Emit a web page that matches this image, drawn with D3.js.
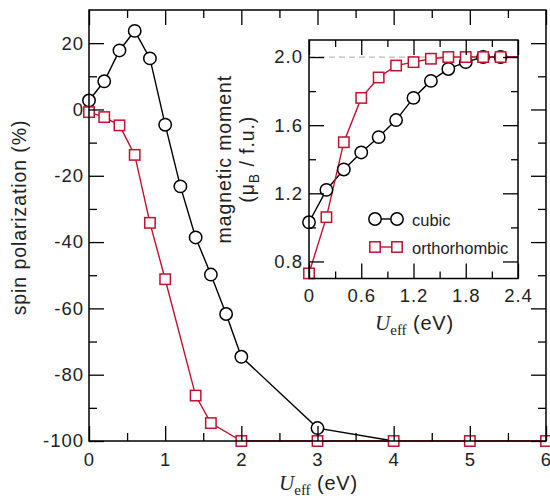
<!DOCTYPE html>
<html>
<head>
<meta charset="utf-8">
<script src="https://cdn.jsdelivr.net/npm/d3@7"></script>
<style>
  html, body { margin: 0; padding: 0; background: #fff; }
  svg { display: block; font-family: "Liberation Sans", Arial, Helvetica, sans-serif; }
</style>
</head>
<body>
<svg id="chart" width="550" height="498"></svg>
<script>
// Spin polarization vs U_eff (main panel)
const uMainCubic = [0, 0.2, 0.4, 0.6, 0.8, 1.0, 1.2, 1.4, 1.6, 1.8, 2.0, 3.0, 4.0];
const spinCubic  = [2.7, 8.5, 17.8, 23.7, 15.4, -4.6, -23.2, -38.6, -49.8, -61.7, -74.6, -96.1, -100];
const uMainOrtho = [0, 0.2, 0.4, 0.6, 0.8, 1.0, 1.4, 1.6, 2.0, 3.0, 4.0, 5.0, 6.0];
const spinOrtho  = [-0.8, -2.3, -4.8, -13.7, -34.2, -51.2, -86.3, -94.6, -100, -100, -100, -100, -100];

// Magnetic moment vs U_eff (inset)
const uInset       = [0, 0.2, 0.4, 0.6, 0.8, 1.0, 1.2, 1.4, 1.6, 1.8, 2.0, 2.2, 2.6];
const momentCubic  = [1.03, 1.22, 1.34, 1.44, 1.53, 1.63, 1.76, 1.86, 1.93, 1.97, 2.0, 2.0, 2.0];
const momentOrtho  = [0.73, 1.06, 1.50, 1.76, 1.88, 1.95, 1.97, 1.99, 2.0, 2.0, 2.0, 2.0, 2.0];

// Tick values
const mainXTicks = [0, 1, 2, 3, 4, 5, 6];
const mainXMinor = [0.5, 1.5, 2.5, 3.5, 4.5, 5.5];
const mainYTicks = [20, 0, -20, -40, -60, -80, -100];
const mainYMinor = [10, -10, -30, -50, -70, -90];
const insetXTicks = [0, 0.6, 1.2, 1.8, 2.4];
const insetXMinor = [0.3, 0.9, 1.5, 2.1];
const insetYTicks = [0.8, 1.2, 1.6, 2.0];
const insetYMinor = [1.0, 1.4, 1.8];
const saturation = 2.0;

const seriesNames = ["cubic", "orthorhombic"];
const RED = "#c3102f";
const BLACK = "#000";
const TEXT = "#222";

const svg = d3.select("#chart");

// ---------- main panel ----------
const M = { left: 89, right: 546, top: 10, bottom: 441 };
const x = d3.scaleLinear().domain([0, 6]).range([M.left, M.right]);
const y = d3.scaleLinear().domain([-100, 30]).range([M.bottom, M.top]);

const main = svg.append("g");

const cubicMain = uMainCubic.map((u, i) => ({ u, v: spinCubic[i] }));
const orthoMain = uMainOrtho.map((u, i) => ({ u, v: spinOrtho[i] }));
// a cubic point that coincides with an orthorhombic one sits under its square
const cubicVisible = cubicMain.filter(c => !orthoMain.some(o => o.u === c.u && o.v === c.v));

const lineMain = d3.line().x(d => x(d.u)).y(d => y(d.v));

main.append("path").datum(cubicMain).attr("d", lineMain)
  .attr("fill", "none").attr("stroke", BLACK).attr("stroke-width", 1.4);
main.append("path").datum(orthoMain).attr("d", lineMain)
  .attr("fill", "none").attr("stroke", RED).attr("stroke-width", 1.4);

const R = 6.2, S = 10.4;
main.selectAll("circle.c").data(cubicVisible).join("circle")
  .attr("cx", d => x(d.u)).attr("cy", d => y(d.v)).attr("r", R)
  .attr("fill", "#fff").attr("stroke", BLACK).attr("stroke-width", 1.5);
main.selectAll("rect.o").data(orthoMain).join("rect")
  .attr("x", d => x(d.u) - S / 2).attr("y", d => y(d.v) - S / 2)
  .attr("width", S).attr("height", S)
  .attr("fill", "#fff").attr("stroke", RED).attr("stroke-width", 1.5);

function styleAxis(g, fontSize) {
  g.select(".domain").remove();
  g.selectAll("line").attr("stroke", BLACK).attr("stroke-width", 1.3);
  g.selectAll("text").attr("fill", TEXT).style("font-size", fontSize + "px")
    .style("letter-spacing", "1px")
    .style("font-family", "'Liberation Sans', Arial, sans-serif");
}

// bottom axis
main.append("g").attr("transform", `translate(0,${M.bottom})`)
  .call(d3.axisBottom(x).tickValues(mainXTicks).tickSize(-15).tickPadding(12).tickFormat(d3.format("d")))
  .call(g => styleAxis(g, 18.5));
main.append("g").attr("transform", `translate(0,${M.bottom})`)
  .call(d3.axisBottom(x).tickValues(mainXMinor).tickSize(-8).tickFormat(""))
  .call(g => styleAxis(g, 18.5));
// top axis
main.append("g").attr("transform", `translate(0,${M.top})`)
  .call(d3.axisTop(x).tickValues(mainXTicks).tickSize(-15).tickFormat(""))
  .call(g => styleAxis(g, 18.5));
main.append("g").attr("transform", `translate(0,${M.top})`)
  .call(d3.axisTop(x).tickValues(mainXMinor).tickSize(-8).tickFormat(""))
  .call(g => styleAxis(g, 18.5));
// left axis
main.append("g").attr("transform", `translate(${M.left},0)`)
  .call(d3.axisLeft(y).tickValues(mainYTicks).tickSize(-15).tickPadding(5).tickFormat(d => String(d)))
  .call(g => styleAxis(g, 18.5));
main.append("g").attr("transform", `translate(${M.left},0)`)
  .call(d3.axisLeft(y).tickValues(mainYMinor).tickSize(-8).tickFormat(""))
  .call(g => styleAxis(g, 18.5));
// right axis
main.append("g").attr("transform", `translate(${M.right},0)`)
  .call(d3.axisRight(y).tickValues(mainYTicks).tickSize(-15).tickFormat(""))
  .call(g => styleAxis(g, 18.5));
main.append("g").attr("transform", `translate(${M.right},0)`)
  .call(d3.axisRight(y).tickValues(mainYMinor).tickSize(-8).tickFormat(""))
  .call(g => styleAxis(g, 18.5));

main.append("rect")
  .attr("x", M.left).attr("y", M.top)
  .attr("width", M.right - M.left).attr("height", M.bottom - M.top)
  .attr("fill", "none").attr("stroke", BLACK).attr("stroke-width", 1.5);

// axis titles
main.append("text")
  .attr("transform", `translate(26,${(M.top + M.bottom) / 2 - 8}) rotate(-90)`)
  .attr("text-anchor", "middle").attr("fill", TEXT)
  .style("font-size", "19.5px").style("letter-spacing", "0.9px")
  .text("spin polarization (%)");

function uEffLabel(sel, cx, baseline) {
  const t = sel.append("text").attr("x", cx).attr("y", baseline)
    .attr("text-anchor", "middle").attr("fill", TEXT);
  t.append("tspan").style("font-family", "'Liberation Serif', 'Times New Roman', serif")
    .style("font-style", "italic").style("font-size", "21px").text("U");
  t.append("tspan").attr("dy", 5).style("font-family", "'Liberation Serif', 'Times New Roman', serif")
    .style("font-size", "15px").text("eff");
  t.append("tspan").attr("dy", -5).style("font-size", "20px").style("letter-spacing", "0.8px").text(" (eV)");
}
uEffLabel(main, (M.left + M.right) / 2 + 1, 490);

// ---------- inset ----------
const I = { left: 309, right: 518, top: 40, bottom: 278.5 };
const xi = d3.scaleLinear().domain([0, 2.4]).range([I.left, I.right]);
const yi = d3.scaleLinear().domain([0.7, 2.1]).range([I.bottom, I.top]);

const inset = svg.append("g");
inset.append("rect")
  .attr("x", I.left).attr("y", I.top)
  .attr("width", I.right - I.left).attr("height", I.bottom - I.top)
  .attr("fill", "#fff");

svg.append("clipPath").attr("id", "insetClip").append("rect")
  .attr("x", I.left - 20).attr("y", I.top - 20)
  .attr("width", I.right - I.left + 20).attr("height", I.bottom - I.top + 40);

const plotI = inset.append("g").attr("clip-path", "url(#insetClip)");

// saturated moment reference line
plotI.append("line")
  .attr("x1", xi(0)).attr("x2", xi(2.4))
  .attr("y1", yi(saturation)).attr("y2", yi(saturation))
  .attr("stroke", "#bbb").attr("stroke-width", 1.2).attr("stroke-dasharray", "6,4");

const cubicI = uInset.map((u, i) => ({ u, v: momentCubic[i] }));
const orthoI = uInset.map((u, i) => ({ u, v: momentOrtho[i] }));
const lineI = d3.line().x(d => xi(d.u)).y(d => yi(d.v));

plotI.append("path").datum(cubicI).attr("d", lineI)
  .attr("fill", "none").attr("stroke", BLACK).attr("stroke-width", 1.4);
plotI.append("path").datum(orthoI).attr("d", lineI)
  .attr("fill", "none").attr("stroke", RED).attr("stroke-width", 1.4);
plotI.selectAll("circle").data(cubicI).join("circle")
  .attr("cx", d => xi(d.u)).attr("cy", d => yi(d.v)).attr("r", R)
  .attr("fill", "#fff").attr("stroke", BLACK).attr("stroke-width", 1.5);
plotI.selectAll("rect").data(orthoI).join("rect")
  .attr("x", d => xi(d.u) - S / 2).attr("y", d => yi(d.v) - S / 2)
  .attr("width", S).attr("height", S)
  .attr("fill", "#fff").attr("stroke", RED).attr("stroke-width", 1.5);

const fmtI = d => (d === 0 ? "0" : d3.format(".1f")(d));
inset.append("g").attr("transform", `translate(0,${I.bottom})`)
  .call(d3.axisBottom(xi).tickValues(insetXTicks).tickSize(-15).tickPadding(10).tickFormat(fmtI))
  .call(g => styleAxis(g, 18.5));
inset.append("g").attr("transform", `translate(0,${I.bottom})`)
  .call(d3.axisBottom(xi).tickValues(insetXMinor).tickSize(-7).tickFormat(""))
  .call(g => styleAxis(g, 18.5));
inset.append("g").attr("transform", `translate(0,${I.top})`)
  .call(d3.axisTop(xi).tickValues(insetXTicks).tickSize(-15).tickFormat(""))
  .call(g => styleAxis(g, 18.5));
inset.append("g").attr("transform", `translate(0,${I.top})`)
  .call(d3.axisTop(xi).tickValues(insetXMinor).tickSize(-7).tickFormat(""))
  .call(g => styleAxis(g, 18.5));
inset.append("g").attr("transform", `translate(${I.left},0)`)
  .call(d3.axisLeft(yi).tickValues(insetYTicks).tickSize(-15).tickPadding(6).tickFormat(d3.format(".1f")))
  .call(g => styleAxis(g, 18.5));
inset.append("g").attr("transform", `translate(${I.left},0)`)
  .call(d3.axisLeft(yi).tickValues(insetYMinor).tickSize(-7).tickFormat(""))
  .call(g => styleAxis(g, 18.5));
inset.append("g").attr("transform", `translate(${I.right},0)`)
  .call(d3.axisRight(yi).tickValues(insetYTicks).tickSize(-15).tickFormat(""))
  .call(g => styleAxis(g, 18.5));
inset.append("g").attr("transform", `translate(${I.right},0)`)
  .call(d3.axisRight(yi).tickValues(insetYMinor).tickSize(-7).tickFormat(""))
  .call(g => styleAxis(g, 18.5));

inset.append("rect")
  .attr("x", I.left).attr("y", I.top)
  .attr("width", I.right - I.left).attr("height", I.bottom - I.top)
  .attr("fill", "none").attr("stroke", BLACK).attr("stroke-width", 1.5);

uEffLabel(inset, (I.left + I.right) / 2 + 1, 330);

const ylab = inset.append("g")
  .attr("transform", `translate(0,${(I.top + I.bottom) / 2})`);
ylab.append("text").attr("transform", "translate(231,0) rotate(-90)")
  .attr("text-anchor", "middle").attr("fill", TEXT)
  .style("font-size", "19.5px").style("letter-spacing", "0.9px")
  .text("magnetic moment");
const yl2 = ylab.append("text").attr("transform", "translate(254,0) rotate(-90)")
  .attr("text-anchor", "middle").attr("fill", TEXT)
  .style("font-size", "19.5px").style("letter-spacing", "0.9px");
yl2.append("tspan").text("(\u03bc");
yl2.append("tspan").attr("dy", 5).style("font-size", "14px").text("B");
yl2.append("tspan").attr("dy", -5).text(" / f.u.)");

// legend
const legend = inset.append("g");
const legendRows = [
  { name: seriesNames[0], y: 219, kind: "circle", color: BLACK },
  { name: seriesNames[1], y: 247, kind: "square", color: RED }
];
const lx1 = 375, lx2 = 397;
legendRows.forEach(r => {
  legend.append("line").attr("x1", lx1).attr("x2", lx2).attr("y1", r.y).attr("y2", r.y)
    .attr("stroke", r.color).attr("stroke-width", 1.4);
  [lx1, lx2].forEach(cx => {
    if (r.kind === "circle") {
      legend.append("circle").attr("cx", cx).attr("cy", r.y).attr("r", R)
        .attr("fill", "#fff").attr("stroke", r.color).attr("stroke-width", 1.5);
    } else {
      legend.append("rect").attr("x", cx - S / 2).attr("y", r.y - S / 2)
        .attr("width", S).attr("height", S)
        .attr("fill", "#fff").attr("stroke", r.color).attr("stroke-width", 1.5);
    }
  });
  legend.append("text").attr("x", 412).attr("y", r.y + 6.5)
    .attr("fill", TEXT).style("font-size", "16.5px").text(r.name);
});
</script>
</body>
</html>
